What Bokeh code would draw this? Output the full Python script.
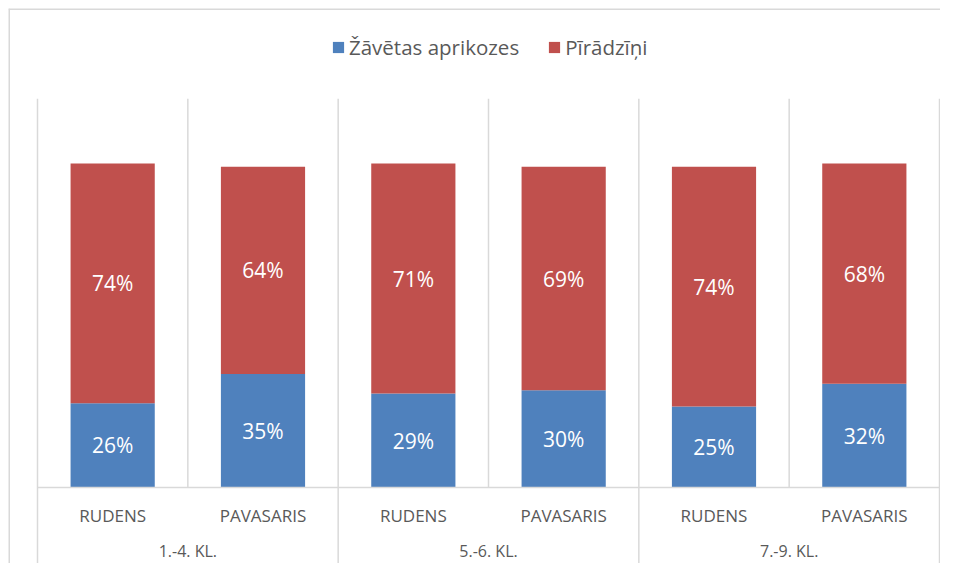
from bokeh.plotting import figure
from bokeh.models import Range1d, Legend, LegendItem, ColumnDataSource
from bokeh.core.properties import value
from bokeh.embed import file_html
from bokeh.resources import INLINE

seasons = ["RUDENS", "PAVASARIS", "RUDENS", "PAVASARIS", "RUDENS", "PAVASARIS"]
groups = ["1.-4. KL.", "5.-6. KL.", "7.-9. KL."]
series_names = ["Žāvētas aprikozes", "Pīrādzīņi"]
apricots = [26, 35, 29, 30, 25, 32]
pies = [74, 64, 71, 69, 74, 68]
colors = ["#4F81BD", "#C0504D"]

FONT = "Open Sans"
GRAY = "#595959"
GRID = "#d9d9d9"

W, H = 940, 563          # fits the 956x579 window with the 8px page margin
OFF = 8                  # inner offset of the chart border
FW, FH = W - OFF, H - OFF
px_per_cat = 902 / 6.0
px_per_pct = 3.24
x0 = -29 / px_per_cat
x1 = 6 + (FW - 931) / px_per_cat
y0 = -(FH - 479) / px_per_pct
y1 = 479 / px_per_pct

p = figure(width=W, height=H, output_backend="svg", toolbar_location=None,
           x_range=Range1d(x0, x1), y_range=Range1d(y0, y1),
           min_border_left=OFF, min_border_right=0,
           min_border_top=OFF, min_border_bottom=0)
p.axis.visible = False
p.grid.visible = False
p.outline_line_color = None
p.background_fill_color = "white"
p.border_fill_color = "white"

# chart border (left and top edges; right/bottom lie outside the window)
p.segment(x0=[x0, x0], y0=[y0, y1], x1=[x0, x1], y1=[y1, y1],
          line_color=GRID, line_width=3)

n = len(apricots)
xs = [i + 0.5 for i in range(n)]
src = ColumnDataSource(dict(x=xs, a=apricots, b=pies))
rs = p.vbar_stack(["a", "b"], x="x", width=0.56, source=src,
                  color=colors, line_color=None)

# separators
top = 120
inner = [i for i in range(1, n) if i % 2 == 1]
outer = [0, 2, 4, 6]
bottom_outer = y0
p.segment(x0=inner, y0=[0] * len(inner), x1=inner, y1=[top] * len(inner),
          line_color=GRID, line_width=1.5)
p.segment(x0=outer, y0=[bottom_outer] * len(outer), x1=outer, y1=[top] * len(outer),
          line_color=GRID, line_width=1.5)
p.segment(x0=[0], y0=[0], x1=[6], y1=[0], line_color=GRID, line_width=1.5)

# data labels
lab_x = xs + xs
lab_y = [a / 2 for a in apricots] + [a + b / 2 for a, b in zip(apricots, pies)]
lab_t = [f"{v}%" for v in apricots] + [f"{v}%" for v in pies]
p.text(x=lab_x, y=lab_y, text=lab_t, text_color="white",
       text_font=value(FONT), text_font_size="21px",
       text_align="center", text_baseline="middle")

# category labels
cat_y = -(515 - 487) / px_per_pct
p.text(x=xs, y=[cat_y] * n, text=seasons, text_color=GRAY,
       text_font=value(FONT), text_font_size="17px",
       text_align="center", text_baseline="middle")
grp_y = -(550 - 487) / px_per_pct
p.text(x=[1, 3, 5], y=[grp_y] * 3, text=groups, text_color=GRAY,
       text_font=value(FONT), text_font_size="16px",
       text_align="center", text_baseline="middle")

legend = Legend(items=[LegendItem(label=series_names[0], renderers=[rs[0]]),
                       LegendItem(label=series_names[1], renderers=[rs[1]])],
                orientation="horizontal", location=(323, 502),
                label_text_font=FONT, label_text_font_size="20.5px",
                label_text_color=GRAY, glyph_width=14, glyph_height=14,
                spacing=28, label_standoff=4, padding=0, margin=0,
                border_line_color=None, background_fill_alpha=0)
p.add_layout(legend, "center")

open("out.html", "w").write(file_html(p, INLINE))
